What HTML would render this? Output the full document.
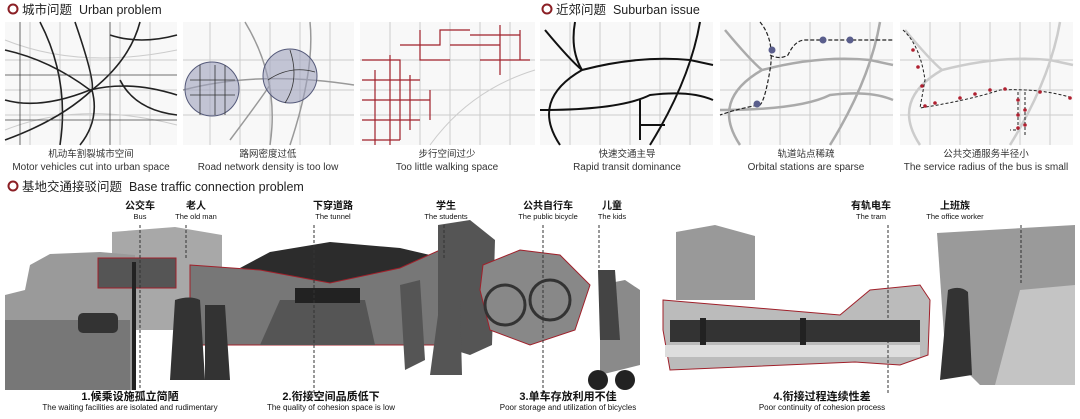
<!DOCTYPE html>
<html><head><meta charset="utf-8"><style>
html,body{margin:0;padding:0;background:#fff;width:1080px;height:419px;overflow:hidden}
svg{display:block}
text{font-family:"Liberation Sans","Noto Sans CJK SC",sans-serif;fill:#222}
.h{font-size:12.5px}
.c{font-size:9.5px;text-anchor:middle;fill:#333}
.e{font-size:10px;text-anchor:middle;fill:#333}
.lc{font-size:10px;text-anchor:middle;font-weight:bold;fill:#111}
.le{font-size:7.5px;text-anchor:middle;fill:#111}
.bc{font-size:11px;text-anchor:middle;font-weight:bold;fill:#111}
.be{font-size:8px;text-anchor:middle;fill:#111}
.g{fill:none;stroke:#ccc;stroke-width:1}
.k{fill:none;stroke:#222;stroke-width:1.6}
.r{fill:none;stroke:#a0202a;stroke-width:1.2}
.d{stroke:#333;stroke-width:1;stroke-dasharray:3,2}
</style></head><body>
<svg width="1080" height="419" viewBox="0 0 1080 419">
<circle cx="13" cy="9" r="4.5" fill="none" stroke="#8b1f25" stroke-width="2"/>
<text x="22" y="14" class="h">城市问题 &#160;Urban problem</text>
<circle cx="547" cy="9" r="4.5" fill="none" stroke="#8b1f25" stroke-width="2"/>
<text x="556" y="14" class="h">近郊问题 &#160;Suburban issue</text>
<circle cx="13" cy="186" r="4.5" fill="none" stroke="#8b1f25" stroke-width="2"/>
<text x="22" y="191" class="h">基地交通接驳问题 &#160;Base traffic connection problem</text>

<g>
<rect x="5" y="22" width="172" height="123" fill="#f8f8f8"/>
<path class="g" d="M5 60 H177 M5 90 H177 M5 115 H177 M30 22 V145 M60 22 V145 M90 22 V145 M120 22 V145 M150 22 V145 M5 40 Q80 70 177 50 M5 130 Q80 100 177 125"/>
<path class="k" d="M5 50 Q50 60 90 90 Q130 80 177 95 M40 22 Q70 80 60 145 M75 22 Q95 80 92 90 Q100 120 80 145 M5 100 Q40 110 90 90 M110 35 Q140 45 177 35 M120 80 Q135 110 177 115 M5 140 Q60 120 92 90 M140 22 Q130 60 92 90"/>
<path d="M5 75 H177 M20 22 V145 M110 22 V145 M5 120 H177" stroke="#444" stroke-width="0.8" fill="none"/>
</g>
<g>
<rect x="183" y="22" width="171" height="123" fill="#f8f8f8"/>
<path class="g" d="M183 60 H354 M183 90 H354 M183 115 H354 M210 22 V145 M240 22 V145 M270 22 V145 M300 22 V145 M330 22 V145"/>
<path d="M245 22 Q280 80 270 145 M310 22 Q315 70 290 145 M183 90 Q260 70 354 85 M230 140 Q260 100 270 85" stroke="#999" stroke-width="1.5" fill="none"/>
<circle cx="212" cy="89" r="27" fill="#9ea2bd" fill-opacity="0.6" stroke="#555a7a" stroke-width="1"/>
<circle cx="290" cy="76" r="27" fill="#9ea2bd" fill-opacity="0.6" stroke="#555a7a" stroke-width="1"/>
<path d="M190 80 H235 M190 95 H235 M200 65 V115 M215 65 V115 M225 65 V115 M268 80 Q290 65 315 72 M290 50 Q300 80 285 103" stroke="#333" stroke-width="0.8" fill="none"/>
</g>
<g>
<rect x="360" y="22" width="175" height="123" fill="#f8f8f8"/>
<path class="g" d="M360 60 H535 M360 90 H535 M360 115 H535 M390 22 V145 M420 22 V145 M450 22 V145 M480 22 V145 M510 22 V145 M430 145 Q470 90 535 70"/>
<path class="r" d="M362 60 H400 V140 M362 80 H420 M362 100 H430 M375 70 V145 M390 55 V145 M410 75 V130 M362 120 H420 M400 45 H440 V30 H470 M420 30 V60 H450 M450 45 H500 V25 M470 35 H520 M480 60 H530 M500 40 V75 M520 30 V60 M362 140 H400 M430 90 V120"/>
</g>
<g>
<rect x="540" y="22" width="173" height="123" fill="#f8f8f8"/>
<path class="g" d="M540 60 H713 M540 90 H713 M540 115 H713 M570 22 V145 M600 22 V145 M630 22 V145 M660 22 V145 M690 22 V145"/>
<path d="M545 30 Q570 60 582 70 Q530 100 560 145 M582 70 Q640 55 690 60 L713 65 M700 22 Q690 80 650 145 M540 110 Q620 110 650 95 Q690 90 713 100 M575 22 Q570 50 582 70 M640 100 V140 M640 125 H665" stroke="#111" stroke-width="2" fill="none"/>
</g>
<g>
<rect x="720" y="22" width="173" height="123" fill="#f8f8f8"/>
<path class="g" d="M720 60 H893 M720 90 H893 M720 115 H893 M750 22 V145 M780 22 V145 M810 22 V145 M840 22 V145 M870 22 V145"/>
<path d="M725 30 Q750 60 762 70 Q710 100 740 145 M762 70 Q820 55 870 60 L893 65 M880 22 Q870 80 830 145 M720 110 Q800 110 830 95 Q870 90 893 100" stroke="#aaa" stroke-width="2.5" fill="none"/>
<path d="M760 22 Q775 40 770 70 Q765 100 760 105 Q740 108 720 115 M770 55 Q780 60 788 55 Q795 40 805 40 H893" stroke="#222" stroke-width="1.2" stroke-dasharray="4,2" fill="none"/>
<circle cx="772" cy="50" r="3.5" fill="#5a5e8c"/><circle cx="823" cy="40" r="3.5" fill="#5a5e8c"/><circle cx="850" cy="40" r="3.5" fill="#5a5e8c"/><circle cx="757" cy="104" r="3.5" fill="#5a5e8c"/>
</g>
<g>
<rect x="900" y="22" width="173" height="123" fill="#f8f8f8"/>
<path class="g" d="M900 60 H1073 M900 90 H1073 M900 115 H1073 M930 22 V145 M960 22 V145 M990 22 V145 M1020 22 V145 M1050 22 V145"/>
<path d="M905 30 Q930 60 942 70 Q890 100 920 145 M942 70 Q1000 55 1050 60 L1073 65 M1060 22 Q1050 80 1010 145" stroke="#ccc" stroke-width="2.5" fill="none"/>
<path d="M903 30 Q920 45 925 80 L920 108 Q970 100 1000 90 Q1040 88 1073 98 M1018 92 V130 H1010 M1025 92 V135" stroke="#222" stroke-width="1" stroke-dasharray="3,2" fill="none"/>
<g fill="#b02030"><circle cx="913" cy="50" r="1.8"/><circle cx="918" cy="67" r="1.8"/><circle cx="922" cy="86" r="1.8"/><circle cx="925" cy="106" r="1.8"/><circle cx="935" cy="103" r="1.8"/><circle cx="960" cy="98" r="1.8"/><circle cx="975" cy="94" r="1.8"/><circle cx="990" cy="90" r="1.8"/><circle cx="1005" cy="89" r="1.8"/><circle cx="1018" cy="100" r="1.8"/><circle cx="1018" cy="115" r="1.8"/><circle cx="1018" cy="128" r="1.8"/><circle cx="1025" cy="110" r="1.8"/><circle cx="1025" cy="125" r="1.8"/><circle cx="1040" cy="92" r="1.8"/><circle cx="1070" cy="98" r="1.8"/></g>
</g>

<text x="91" y="157" class="c">机动车割裂城市空间</text><text x="91" y="170" class="e">Motor vehicles cut into urban space</text>
<text x="268" y="157" class="c">路网密度过低</text><text x="268" y="170" class="e">Road network density is too low</text>
<text x="447" y="157" class="c">步行空间过少</text><text x="447" y="170" class="e">Too little walking space</text>
<text x="627" y="157" class="c">快速交通主导</text><text x="627" y="170" class="e">Rapid transit dominance</text>
<text x="806" y="157" class="c">轨道站点稀疏</text><text x="806" y="170" class="e">Orbital stations are sparse</text>
<text x="986" y="157" class="c">公共交通服务半径小</text><text x="986" y="170" class="e">The service radius of the bus is small</text>

<g>
<polygon points="112,232 175,227 222,235 222,330 112,330" fill="#a8a8a8"/>
<polygon points="30,265 50,254 100,252 135,255 135,390 5,390 5,295 25,290" fill="#9a9a9a"/>
<polygon points="5,320 130,320 130,390 5,390" fill="#777"/>
<rect x="78" y="313" width="40" height="20" rx="5" fill="#333"/>
<rect x="98" y="258" width="78" height="30" fill="#555" stroke="#a0202a"/>
<rect x="132" y="262" width="4" height="128" fill="#222"/>
<polygon points="240,268 270,252 330,242 400,248 430,255 400,268 330,283" fill="#2c2c2c"/>
<polygon points="190,265 260,270 330,283 400,268 440,250 440,345 190,345" fill="#777" stroke="#a0202a"/>
<polygon points="280,300 365,300 375,345 260,345" fill="#555"/>
<rect x="295" y="288" width="65" height="15" fill="#222"/>
<path d="M175 300 Q190 295 200 300 L205 380 L170 380 Z M205 305 L225 305 L230 380 L205 380 Z" fill="#333"/>
<polygon points="438,225 470,220 495,240 492,345 470,355 438,345" fill="#555"/>
<path d="M400 285 L420 280 L425 360 L405 370 Z M440 300 L460 300 L462 375 L430 375 Z" fill="#555"/>
<polygon points="483,265 520,250 560,255 590,285 575,330 530,345 490,330 480,290" fill="#888" stroke="#a0202a"/>
<circle cx="505" cy="305" r="20" fill="none" stroke="#333" stroke-width="3"/>
<circle cx="550" cy="300" r="20" fill="none" stroke="#333" stroke-width="3"/>
<polygon points="600,285 625,280 640,290 640,365 600,375" fill="#8a8a8a"/>
<path d="M598 270 L615 270 L620 340 L600 340 Z" fill="#444"/>
<circle cx="598" cy="380" r="10" fill="#222"/><circle cx="625" cy="380" r="10" fill="#222"/>
<polygon points="676,232 715,225 755,236 755,300 676,300" fill="#999"/>
<polygon points="663,300 840,315 870,290 920,285 930,300 928,355 900,365 855,362 670,370 663,330" fill="#bbb" stroke="#a0202a"/>
<rect x="670" y="320" width="250" height="22" fill="#333"/>
<rect x="700" y="318" width="6" height="32" fill="#222"/><rect x="800" y="318" width="6" height="32" fill="#222"/>
<rect x="665" y="345" width="255" height="12" fill="#ddd"/>
<polygon points="937,233 1075,225 1075,385 980,385 945,350" fill="#9a9a9a"/>
<polygon points="1020,290 1075,285 1075,385 995,385" fill="#c4c4c4"/>
<path d="M948 290 Q960 285 968 292 L972 375 L940 380 Z" fill="#333"/>
</g>

<path class="d" d="M140 225 V390 M186 225 V260 M314 225 V395 M444 225 V260 M543 225 V395 M599 225 V270 M888 225 V395 M1021 225 V285"/>

<text x="140" y="209" class="lc">公交车</text><text x="140" y="219" class="le">Bus</text>
<text x="196" y="209" class="lc">老人</text><text x="196" y="219" class="le">The old man</text>
<text x="333" y="209" class="lc">下穿道路</text><text x="333" y="219" class="le">The tunnel</text>
<text x="446" y="209" class="lc">学生</text><text x="446" y="219" class="le">The students</text>
<text x="548" y="209" class="lc">公共自行车</text><text x="548" y="219" class="le">The public bicycle</text>
<text x="612" y="209" class="lc">儿童</text><text x="612" y="219" class="le">The kids</text>
<text x="871" y="209" class="lc">有轨电车</text><text x="871" y="219" class="le">The tram</text>
<text x="955" y="209" class="lc">上班族</text><text x="955" y="219" class="le">The office worker</text>

<text x="130" y="400" class="bc">1.候乘设施孤立简陋</text><text x="130" y="410" class="be">The waiting facilities are isolated and rudimentary</text>
<text x="331" y="400" class="bc">2.衔接空间品质低下</text><text x="331" y="410" class="be">The quality of cohesion space is low</text>
<text x="568" y="400" class="bc">3.单车存放利用不佳</text><text x="568" y="410" class="be">Poor storage and utilization of bicycles</text>
<text x="822" y="400" class="bc">4.衔接过程连续性差</text><text x="822" y="410" class="be">Poor continuity of cohesion process</text>
</svg>
</body></html>
